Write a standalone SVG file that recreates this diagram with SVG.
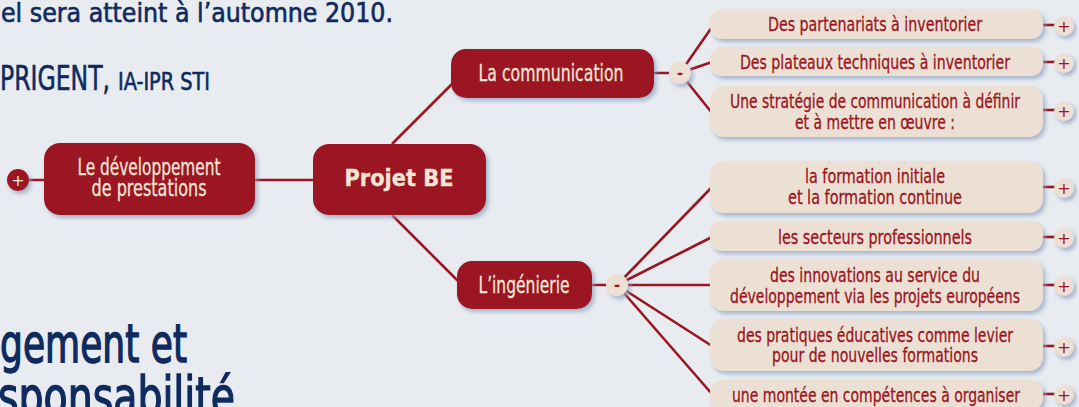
<svg xmlns="http://www.w3.org/2000/svg" width="1079" height="407" viewBox="0 0 1079 407">
<style>
.bg{fill:#e8ecf0}
.nar{font-family:"Liberation Sans Narrow","DejaVu Sans Condensed","Liberation Sans",sans-serif}
.blue{fill:#0f2a5e;stroke:#0f2a5e;stroke-width:0.6}
.main{fill:#9b1520;filter:url(#sh)}
.mtxt{fill:#f2e4d6;stroke:#f2e4d6;stroke-width:0.3;text-anchor:middle;font-size:23px}
.child{fill:#ece0d5;filter:url(#sh)}
.ctxt{fill:#9b1520;stroke:#9b1520;stroke-width:0.3;text-anchor:middle;font-size:20px}
.con{stroke:#9b1520;stroke-width:2.6;fill:none}
.pc{fill:#ece0d5;filter:url(#sh)}
.ptxt{fill:#9b1520;text-anchor:middle;font-size:16px;font-family:"DejaVu Sans",sans-serif}
</style>
<defs>
<filter id="sh" x="-20%" y="-30%" width="140%" height="170%">
<feDropShadow dx="2.5" dy="3" stdDeviation="2" flood-color="#8ea3c2" flood-opacity="0.75"/>
</filter>
</defs>
<rect class="bg" x="0" y="0" width="1079" height="407"/>

<g id="background-text" class="nar blue">
<text x="1" y="22" font-size="27" textLength="392" lengthAdjust="spacingAndGlyphs">el sera atteint à l’automne 2010.</text>
<text x="0" y="90" font-size="34" textLength="110" lengthAdjust="spacingAndGlyphs">PRIGENT,</text>
<text x="118" y="90" font-size="25" textLength="92" lengthAdjust="spacingAndGlyphs">IA-IPR STI</text>
<text x="0" y="362" font-size="54" stroke-width="1.4" textLength="187" lengthAdjust="spacingAndGlyphs">gement et</text>
<text x="-2" y="415" font-size="54" stroke-width="1.4" textLength="237" lengthAdjust="spacingAndGlyphs">sponsabilité</text>
</g>

<g id="connectors" class="con">
<line x1="18" y1="180" x2="60" y2="180"/>
<line x1="240" y1="180" x2="330" y2="180"/>
<line x1="392" y1="144" x2="468" y2="68"/>
<line x1="392" y1="215" x2="470" y2="293"/>
<line x1="640" y1="73" x2="680" y2="73"/>
<line x1="580" y1="285" x2="617" y2="285"/>
<line x1="680" y1="73" x2="712" y2="27"/>
<line x1="680" y1="73" x2="712" y2="62"/>
<line x1="680" y1="73" x2="712" y2="113"/>
<line x1="617" y1="285" x2="712" y2="187"/>
<line x1="617" y1="285" x2="712" y2="237"/>
<line x1="617" y1="285" x2="712" y2="285"/>
<line x1="617" y1="285" x2="712" y2="346"/>
<line x1="617" y1="285" x2="712" y2="394"/>
<line x1="1030" y1="25" x2="1060" y2="25"/>
<line x1="1030" y1="62" x2="1060" y2="62"/>
<line x1="1030" y1="110" x2="1060" y2="110"/>
<line x1="1030" y1="187" x2="1060" y2="187"/>
<line x1="1030" y1="237" x2="1060" y2="237"/>
<line x1="1030" y1="285" x2="1060" y2="285"/>
<line x1="1030" y1="346" x2="1060" y2="346"/>
<line x1="1030" y1="394" x2="1060" y2="394"/>
</g>

<g id="node-dev" class="nar">
<rect class="main" x="44" y="143" width="211" height="72" rx="16"/>
<text class="mtxt" x="149" y="175" font-size="22" textLength="143" lengthAdjust="spacingAndGlyphs">Le développement</text>
<text class="mtxt" x="149" y="196" font-size="22" textLength="115" lengthAdjust="spacingAndGlyphs">de prestations</text>
<circle cx="18" cy="180" r="11" fill="#9b1520" filter="url(#sh)"/>
<text x="18" y="185.5" text-anchor="middle" font-size="16" font-family="DejaVu Sans,sans-serif" fill="#f2e4d6">+</text>
</g>

<g id="node-projet" class="nar">
<rect class="main" x="313" y="144" width="173" height="71" rx="16"/>
<text class="mtxt" x="399" y="186" font-size="31" font-weight="bold" textLength="109" lengthAdjust="spacingAndGlyphs">Projet BE</text>
</g>

<g id="node-communication" class="nar">
<rect class="main" x="451" y="49" width="203" height="49" rx="15"/>
<text class="mtxt" x="551" y="81" textLength="145" lengthAdjust="spacingAndGlyphs">La communication</text>
<circle class="pc" cx="680" cy="73" r="11"/>
<text x="680" y="79" text-anchor="middle" font-size="18" font-weight="bold" font-family="Liberation Sans,sans-serif" fill="#9b1520">-</text>
</g>

<g id="node-ingenierie" class="nar">
<rect class="main" x="457" y="261" width="135" height="48" rx="15"/>
<text class="mtxt" x="524" y="293" textLength="91" lengthAdjust="spacingAndGlyphs">L’ingénierie</text>
<circle class="pc" cx="617" cy="285" r="11"/>
<text x="617" y="291" text-anchor="middle" font-size="18" font-weight="bold" font-family="Liberation Sans,sans-serif" fill="#9b1520">-</text>
</g>

<g id="node-partenariats" class="nar">
<rect class="child" x="710" y="9" width="333" height="30" rx="12"/>
<text class="ctxt" x="875" y="31" textLength="214" lengthAdjust="spacingAndGlyphs">Des partenariats à inventorier</text>
<circle class="pc" cx="1064" cy="26" r="10"/>
<text class="ptxt" x="1064" y="31.5">+</text>
</g>

<g id="node-plateaux" class="nar">
<rect class="child" x="710" y="47" width="333" height="29" rx="12"/>
<text class="ctxt" x="875" y="69" textLength="270" lengthAdjust="spacingAndGlyphs">Des plateaux techniques à inventorier</text>
<circle class="pc" cx="1064" cy="63" r="10"/>
<text class="ptxt" x="1064" y="68.5">+</text>
</g>

<g id="node-strategie" class="nar">
<rect class="child" x="710" y="86" width="333" height="51" rx="14"/>
<text class="ctxt" x="875" y="108" textLength="290" lengthAdjust="spacingAndGlyphs">Une stratégie de communication à définir</text>
<text class="ctxt" x="875" y="129" textLength="160" lengthAdjust="spacingAndGlyphs">et à mettre en œuvre :</text>
<circle class="pc" cx="1064" cy="111" r="10"/>
<text class="ptxt" x="1064" y="116.5">+</text>
</g>

<g id="node-formation" class="nar">
<rect class="child" x="710" y="161" width="333" height="52" rx="14"/>
<text class="ctxt" x="875" y="183" textLength="140" lengthAdjust="spacingAndGlyphs">la formation initiale</text>
<text class="ctxt" x="875" y="204" textLength="174" lengthAdjust="spacingAndGlyphs">et la formation continue</text>
<circle class="pc" cx="1064" cy="188" r="10"/>
<text class="ptxt" x="1064" y="193.5">+</text>
</g>

<g id="node-secteurs" class="nar">
<rect class="child" x="710" y="221" width="333" height="30" rx="12"/>
<text class="ctxt" x="875" y="244" textLength="194" lengthAdjust="spacingAndGlyphs">les secteurs professionnels</text>
<circle class="pc" cx="1064" cy="238" r="10"/>
<text class="ptxt" x="1064" y="243.5">+</text>
</g>

<g id="node-innovations" class="nar">
<rect class="child" x="710" y="259" width="333" height="52" rx="14"/>
<text class="ctxt" x="875" y="282" textLength="210" lengthAdjust="spacingAndGlyphs">des innovations au service du</text>
<text class="ctxt" x="875" y="303" textLength="290" lengthAdjust="spacingAndGlyphs">développement via les projets européens</text>
<circle class="pc" cx="1064" cy="286" r="10"/>
<text class="ptxt" x="1064" y="291.5">+</text>
</g>

<g id="node-pratiques" class="nar">
<rect class="child" x="710" y="319" width="333" height="52" rx="14"/>
<text class="ctxt" x="875" y="342" textLength="276" lengthAdjust="spacingAndGlyphs">des pratiques éducatives comme levier</text>
<text class="ctxt" x="875" y="362" textLength="206" lengthAdjust="spacingAndGlyphs">pour de nouvelles formations</text>
<circle class="pc" cx="1064" cy="347" r="10"/>
<text class="ptxt" x="1064" y="352.5">+</text>
</g>

<g id="node-competences" class="nar">
<rect class="child" x="710" y="380" width="333" height="30" rx="12"/>
<text class="ctxt" x="876" y="402" textLength="288" lengthAdjust="spacingAndGlyphs">une montée en compétences à organiser</text>
<circle class="pc" cx="1064" cy="395" r="10"/>
<text class="ptxt" x="1064" y="400.5">+</text>
</g>
</svg>
